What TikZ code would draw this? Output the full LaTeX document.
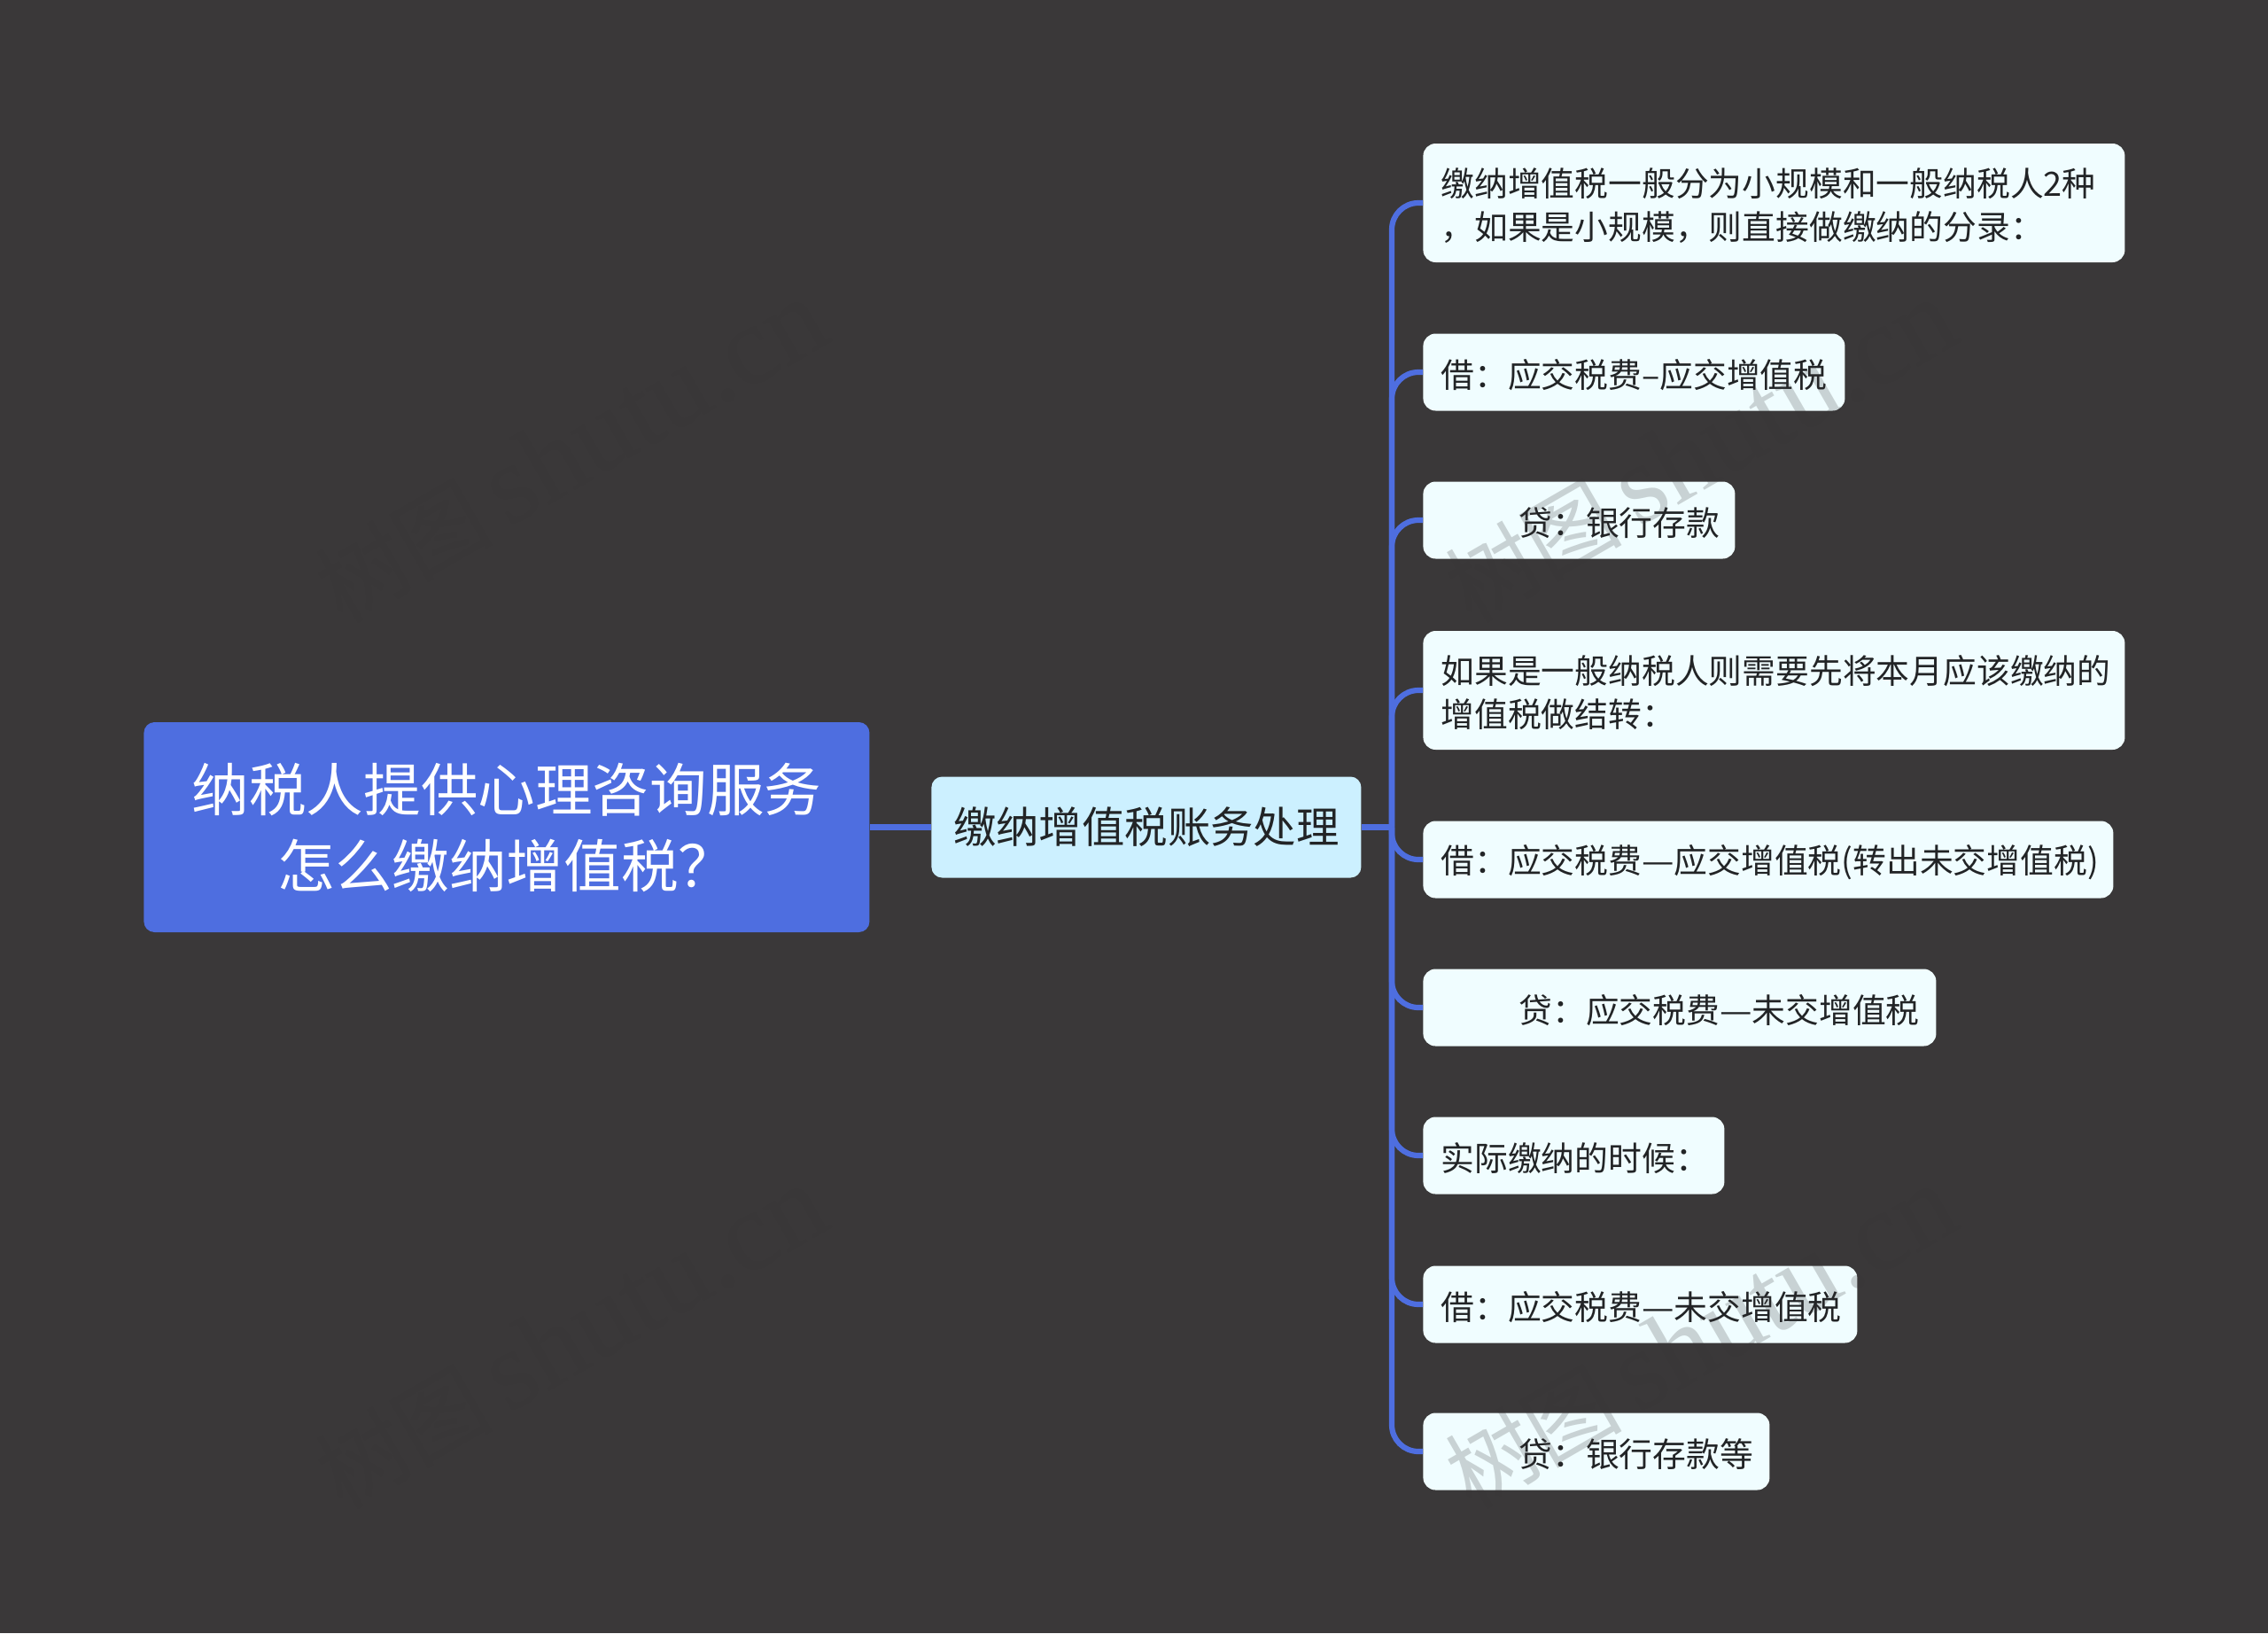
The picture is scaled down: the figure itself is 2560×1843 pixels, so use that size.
\documentclass[tikz,border=0pt]{standalone}
\usepackage{fontspec}
\setmainfont{Noto Sans CJK SC}
\newfontfamily\markfont{Liberation Serif}
\newcommand{\widedash}{\scalebox{1.08}[1]{—}}
\newcommand{\shutulabel}{\fontsize{50}{50}\selectfont 树图\hspace{9pt}\fontsize{63}{63}\markfont shutu.cn}
\definecolor{canvas}{HTML}{3A3839}
\definecolor{branchblue}{HTML}{4E6EE0}
\definecolor{midfill}{HTML}{CCF0FF}
\definecolor{leaffill}{HTML}{F0FDFF}
\definecolor{inktext}{HTML}{222426}
\definecolor{markgray}{HTML}{363636}
\tikzset{
  roottopic/.style={fill=branchblue, text=white, rounded corners=6pt, anchor=west, align=center, inner sep=0pt, minimum width=409.5pt, minimum height=118.5pt, font=\fontsize{32.3}{43}\selectfont},
  midtopic/.style={fill=midfill, text=inktext, rounded corners=6pt, anchor=west, align=center, inner sep=0pt, minimum width=242.5pt, minimum height=57pt, font=\fontsize{24.2}{30}\selectfont},
  leaftopic/.style={fill=leaffill, text=inktext, rounded corners=7pt, anchor=west, align=left, inner xsep=10pt, inner ysep=0pt, minimum height=43.5pt, text height=19pt, font=\fontsize{18.9}{24.5}\selectfont},
  branch/.style={draw=branchblue, line width=3.1pt, rounded corners=15pt},
  shutumark/.style={text=markgray, opacity=0.21, rotate=30, inner sep=0pt}
}
\begin{document}
\begin{tikzpicture}[x=0.5pt, y=-0.5pt]
      \useasboundingbox (0, 0) rectangle (2560, 1843);
      \fill[color=canvas] (0, 0) rectangle (2560, 1843);

      \node[roottopic] (root) at (162, 933.5) {纳税人提供心理咨询服务\\怎么缴纳增值税？};
      \node[midtopic] (mid) at (1051, 933.5) {缴纳增值税账务处理};
      \coordinate (trunk) at (1571, 933.5);

      \node[leaftopic, text width=376pt, minimum height=67pt] (leafa) at (1606, 229) {缴纳增值税一般分为小规模和一般纳税人2种\\，如果是小规模，则直接做缴纳的分录：};
      \node[leaftopic, text width=218pt] (leafb) at (1606, 420) {\mbox{借：应交税费–应交增值税}};
      \node[leaftopic, text width=156pt] (leafc) at (1606, 587) {\hspace*{44pt}贷：银行存款};
      \node[leaftopic, text width=376pt, minimum height=67pt] (leafd) at (1606, 779) {如果是一般纳税人则需要先将本月应该缴纳的\\增值税做结转：};
      \node[leaftopic, text width=369.5pt] (leafe) at (1606, 970) {\mbox{借：应交税费\widedash 应交增值税(转出未交增值税)}};
      \node[leaftopic, text width=269.5pt] (leaff) at (1606, 1137) {\mbox{\hspace*{44pt}贷：应交税费\widedash 未交增值税}};
      \node[leaftopic, text width=150pt] (leafg) at (1606, 1304) {实际缴纳的时候：};
      \node[leaftopic, text width=225pt] (leafh) at (1606, 1472) {\mbox{借：应交税费\widedash 未交增值税}};
      \node[leaftopic, text width=175.5pt] (leafi) at (1606, 1638) {\hspace*{44pt}贷：银行存款等};

      \draw[branch] (root.east) -- (mid.west);
      \draw[branch] (mid.east) -- (trunk);
      \draw[branch] (trunk) |- (leafa.west);
      \draw[branch] (trunk) |- (leafb.west);
      \draw[branch] (trunk) |- (leafc.west);
      \draw[branch] (trunk) |- (leafd.west);
      \draw[branch] (trunk) |- (leafe.west);
      \draw[branch] (trunk) |- (leaff.west);
      \draw[branch] (trunk) |- (leafg.west);
      \draw[branch] (trunk) |- (leafh.west);
      \draw[branch] (trunk) |- (leafi.west);

      \node[shutumark] (marka) at (644, 510) {\shutulabel};
      \node[shutumark] (markb) at (1919, 510) {\shutulabel};
      \node[shutumark] (markc) at (644, 1510) {\shutulabel};
      \node[shutumark] (markd) at (1919, 1510) {\shutulabel};
    \end{tikzpicture}
\end{document}
